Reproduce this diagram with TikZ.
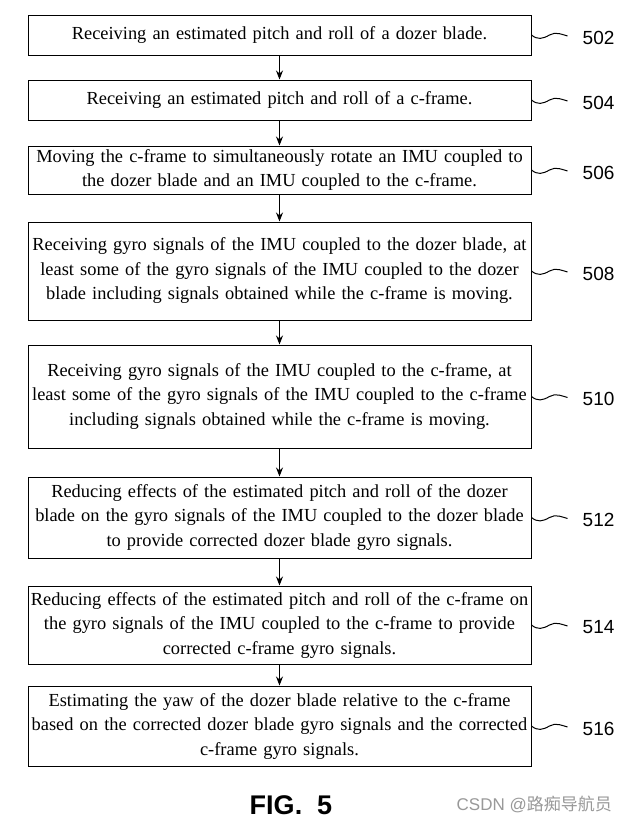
\documentclass[tikz,border=0pt]{standalone}
\usepackage{fontspec}
\setmainfont{Liberation Serif}
\newfontfamily\labfont{Liberation Sans}
\newfontfamily\cjkfont{Noto Sans CJK SC}
\usetikzlibrary{arrows.meta}
\begin{document}
\begin{tikzpicture}[x=1pt,y=-1pt,
  stepbox/.style={draw,line width=1pt,text width=501pt,inner sep=1pt,align=center,
    font=\fontsize{18.4}{24.5}\selectfont,minimum width=503pt},
  flow/.style={line width=1pt,-{Stealth[length=9pt,width=7pt]}},
  wave/.style={line width=1pt},
  reflab/.style={font=\labfont\fontsize{19}{22}\selectfont,inner sep=0pt,anchor=west}]
\useasboundingbox (0,0) rectangle (629,825);
\fill[white] (0,0) rectangle (629,825);

\node[stepbox,minimum height=40pt] (b1) at (279.5,35) {Receiving an estimated pitch and roll of a dozer blade.};
\node[stepbox,minimum height=40pt] (b2) at (279.5,100) {Receiving an estimated pitch and roll of a c-frame.};
\node[stepbox,minimum height=48pt] (b3) at (279.5,170) {Moving the c-frame to simultaneously rotate an IMU coupled to\\the dozer blade and an IMU coupled to the c-frame.};
\node[stepbox,minimum height=98pt] (b4) at (279.5,271) {Receiving gyro signals of the IMU coupled to the dozer blade, at\\least some of the gyro signals of the IMU coupled to the dozer\\blade including signals obtained while the c-frame is moving.};
\node[stepbox,minimum height=103pt] (b5) at (279.5,396.5) {Receiving gyro signals of the IMU coupled to the c-frame, at\\least some of the gyro signals of the IMU coupled to the c-frame\\including signals obtained while the c-frame is moving.};
\node[stepbox,minimum height=81pt] (b6) at (279.5,517.5) {Reducing effects of the estimated pitch and roll of the dozer\\blade on the gyro signals of the IMU coupled to the dozer blade\\to provide corrected dozer blade gyro signals.};
\node[stepbox,minimum height=78pt] (b7) at (279.5,625) {Reducing effects of the estimated pitch and roll of the c-frame on\\the gyro signals of the IMU coupled to the c-frame to provide\\corrected c-frame gyro signals.};
\node[stepbox,minimum height=80pt] (b8) at (279.5,726) {Estimating the yaw of the dozer blade relative to the c-frame\\based on the corrected dozer blade gyro signals and the corrected\\c-frame gyro signals.};

\foreach \a/\b in {b1/b2,b2/b3,b3/b4,b4/b5,b5/b6,b6/b7,b7/b8}
  \draw[flow] (\a.south) -- (\b.north);

\foreach \n/\t in {1/502,2/504,3/506,4/508,5/510,6/512,7/514,8/516}{
  \node[reflab] (l\n) at ([xshift=51pt,yshift=-2.5pt]b\n.east) {\t};
  \coordinate (w\n) at ([xshift=36pt,yshift=-1pt]b\n.east);
  \draw[wave] (b\n.east) .. controls +(6,5) and +(-7,4) .. +(18,0)
     .. controls +(6,-4) and +(-4,-1) .. (w\n);
}

\node[font=\labfont\bfseries\fontsize{27}{30}\selectfont,inner sep=0pt] (fig) at (291,805) {FIG.\ \ 5};
\node[font=\labfont\fontsize{17}{20}\selectfont,text=black!40,inner sep=0pt,anchor=east] (wm) at (612,804) {CSDN @{\cjkfont 路痴导航员}};
\end{tikzpicture}
\end{document}
